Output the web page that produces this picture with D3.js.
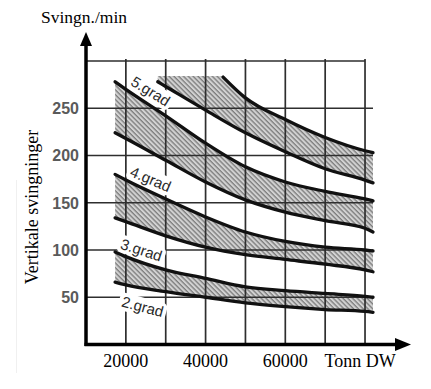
<!DOCTYPE html>
<html>
<head>
<meta charset="utf-8">
<script src="https://cdn.jsdelivr.net/npm/d3@7"></script>
<style>
  html, body { margin: 0; padding: 0; background: #fff; }
  svg { display: block; }
</style>
</head>
<body>
<svg id="chart" width="431" height="389"></svg>
<script>
// grid + tick values
var xGridValues = [20000, 30000, 40000, 50000, 60000, 70000, 80000];
var yGridValues = [50, 100, 150, 200, 250, 300];
var yTickLabels = [50, 100, 150, 200, 250];
var xTickLabels = [20000, 40000, 60000];

// curves (Tonn DW -> svingn./min)
var xCommon = [17300, 20000, 30000, 40000, 50000, 60000, 70000, 80000, 82000];
var grad5UpperX = [44400, 50000, 60000, 70000, 80000, 82000];
var grad5Upper = [283, 261, 238, 219, 205, 203];
var grad5LowerX = [28000, 30000, 40000, 50000, 60000, 70000, 80000, 82000];
var grad5Lower = [278, 273, 248, 224, 204, 186, 174, 171];
var grad5Cap = 284;
var grad4Upper = [278, 270, 242, 213, 188, 172, 162, 154, 152];
var grad4Lower = [224, 218, 195, 172, 153, 140, 131, 123, 119];
var grad3Upper = [180, 174, 154, 135, 119, 109, 103, 100, 99];
var grad3Lower = [134, 130, 115, 103, 95, 90, 85, 79, 77];
var grad2Upper = [98, 93, 79, 70, 61, 57, 54, 51, 50];
var grad2Lower = [66, 63, 56, 50, 44, 40, 37, 35, 34];

// band labels
var gradLabels = ['5.grad', '4.grad', '3.grad', '2.grad'];
var labelX = [26200, 26200, 23900, 24200];
var labelY = [268, 175, 100, 40];
var labelAngle = [32, 23, 18, 15];

var svg = d3.select('#chart');
var x = d3.scaleLinear().domain([10000, 82000]).range([86, 373]);
var y = d3.scaleLinear().domain([0, 300]).range([344.5, 61]);

function pts(xs, ys) {
  return xs.map(function(v, i) { return [v, ys[i]]; });
}
var line = d3.line()
  .x(function(d) { return x(d[0]); })
  .y(function(d) { return y(d[1]); })
  .curve(d3.curveMonotoneX);

// hatch pattern
var defs = svg.append('defs');
var pat = defs.append('pattern')
  .attr('id', 'hatch')
  .attr('patternUnits', 'userSpaceOnUse')
  .attr('width', 3.4).attr('height', 3.4)
  .attr('patternTransform', 'rotate(-45)');
pat.append('rect').attr('width', 3.4).attr('height', 3.4).attr('fill', '#d2d2d2');
pat.append('line').attr('x1', 1).attr('y1', 0).attr('x2', 1).attr('y2', 3.4)
  .attr('stroke', '#6a6a6a').attr('stroke-width', 1.1);

// faint scan border
svg.append('line').attr('x1', 16.5).attr('x2', 16.5).attr('y1', 180).attr('y2', 373)
  .attr('stroke', '#f0f0f0').attr('stroke-width', 1);

// bands
var bands = [
  { upper: pts(xCommon, grad4Upper), lower: pts(xCommon, grad4Lower) },
  { upper: pts(xCommon, grad3Upper), lower: pts(xCommon, grad3Lower) },
  { upper: pts(xCommon, grad2Upper), lower: pts(xCommon, grad2Lower) }
];

var g5Upper = pts(grad5UpperX, grad5Upper);
var g5Lower = pts(grad5LowerX, grad5Lower);
var band5Path = 'M' + x(grad5LowerX[0]) + ',' + y(grad5Cap) +
  'L' + x(grad5UpperX[0]) + ',' + y(grad5Cap) +
  line(g5Upper).replace(/^M/, 'L') +
  line(g5Lower.slice().reverse()).replace(/^M/, 'L') + 'Z';

var hatchG = svg.append('g');
hatchG.append('path').attr('d', band5Path).attr('fill', 'url(#hatch)');
hatchG.selectAll('path.band').data(bands).enter().append('path')
  .attr('class', 'band')
  .attr('d', function(b) {
    return line(b.upper) + line(b.lower.slice().reverse()).replace(/^M/, 'L') + 'Z';
  })
  .attr('fill', 'url(#hatch)');

// grid
var grid = svg.append('g').attr('stroke', '#2e2e2e').attr('stroke-width', 1.7);
grid.selectAll('line.v').data(xGridValues).enter().append('line')
  .attr('x1', function(d) { return x(d); }).attr('x2', function(d) { return x(d); })
  .attr('y1', y(300) - 2).attr('y2', y(0));
grid.selectAll('line.h').data(yGridValues).enter().append('line')
  .attr('x1', x(10000))
  .attr('x2', function(d) { return d === 300 ? x(80000) : x(82000); })
  .attr('y1', function(d) { return y(d); }).attr('y2', function(d) { return y(d); });

// band labels with white halo
var lab = svg.selectAll('g.lab').data(gradLabels).enter().append('g')
  .attr('transform', function(d, i) {
    return 'translate(' + x(labelX[i]) + ',' + y(labelY[i]) + ') rotate(' + labelAngle[i] + ')';
  });
lab.append('rect').attr('fill', '#fff');
lab.append('text')
  .attr('text-anchor', 'middle').attr('dy', '0.35em')
  .attr('font-family', 'Liberation Sans, Arial, sans-serif')
  .attr('font-size', 15).attr('fill', '#2a2a2a')
  .text(function(d) { return d; });
lab.each(function() {
  var t = d3.select(this).select('text');
  var w = t.node().getComputedTextLength();
  d3.select(this).select('rect')
    .attr('x', -w / 2 - 3).attr('y', -9).attr('width', w + 6).attr('height', 18).attr('rx', 5);
});

// curves
var curves = [g5Upper, g5Lower].concat(bands.reduce(function(a, b) { return a.concat([b.upper, b.lower]); }, []));
svg.append('g').selectAll('path').data(curves).enter().append('path')
  .attr('d', line)
  .attr('fill', 'none').attr('stroke', '#111').attr('stroke-width', 3.3)
  .attr('stroke-linecap', 'round');

// axes
var axes = svg.append('g').attr('stroke', '#000').attr('stroke-width', 3.5);
axes.append('line').attr('x1', x(10000)).attr('x2', x(10000)).attr('y1', 44).attr('y2', y(0) + 1.5);
axes.append('line').attr('x1', x(10000) - 1.5).attr('x2', 398).attr('y1', y(0)).attr('y2', y(0));
svg.append('path')
  .attr('d', 'M' + x(10000) + ',32L' + (x(10000) + 6) + ',46L' + (x(10000) - 6) + ',46Z')
  .attr('fill', '#000');
svg.append('path')
  .attr('d', 'M411,' + y(0) + 'L395,' + (y(0) - 6.5) + 'L395,' + (y(0) + 6.5) + 'Z')
  .attr('fill', '#000');

// y tick labels
svg.append('g').selectAll('text').data(yTickLabels).enter().append('text')
  .attr('x', 79).attr('y', function(d) { return y(d); }).attr('dy', '0.36em')
  .attr('text-anchor', 'end')
  .attr('font-family', 'Liberation Sans, Arial, sans-serif')
  .attr('font-size', 16).attr('font-weight', 'bold').attr('fill', '#5a5a5a')
  .text(function(d) { return d; });

// x tick labels
var serif = 'Liberation Serif, Times New Roman, serif';
svg.append('g').selectAll('text').data(xTickLabels).enter().append('text')
  .attr('x', function(d) { return x(d); }).attr('y', 367)
  .attr('text-anchor', 'middle')
  .attr('font-family', serif).attr('font-size', 18).attr('fill', '#000')
  .text(function(d) { return d; });
svg.append('text').attr('x', x(80000) - 5).attr('y', 367).attr('text-anchor', 'middle')
  .attr('font-family', serif).attr('font-size', 18).attr('fill', '#000')
  .text('Tonn DW');

// axis titles
svg.append('text').attr('x', 41).attr('y', 23)
  .attr('font-family', serif).attr('font-size', 17.5).attr('fill', '#000')
  .text('Svingn./min');
svg.append('text').attr('transform', 'translate(38,207) rotate(-90)')
  .attr('text-anchor', 'middle')
  .attr('font-family', serif).attr('font-size', 18).attr('fill', '#000')
  .text('Vertikale svingninger');
</script>
</body>
</html>
